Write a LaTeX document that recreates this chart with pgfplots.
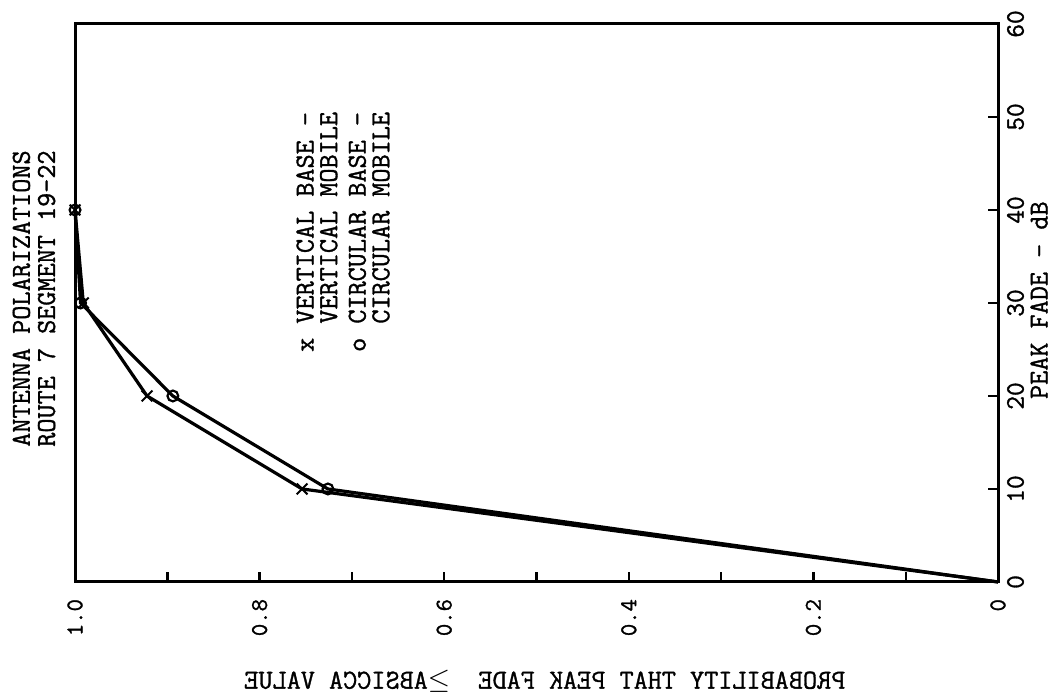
\documentclass[border=0pt]{standalone}
\usepackage{fontspec}
\usepackage{pgfplots}
\pgfplotsset{compat=1.18}
\newfontfamily\tw[FakeBold=1.2]{Latin Modern Mono}
\newcommand\lab{\fontsize{13.7}{11.5}\selectfont\tw}
\newcommand\key{\fontsize{13.7}{11.8}\selectfont\tw}
\newcommand\ttl{\fontsize{13.7}{12.6}\selectfont\tw}
\newcommand\tkb{\fontsize{12}{12}\selectfont\tw}
\newcommand\tkr{\fontsize{13.3}{13}\selectfont\tw}

% cumulative distribution of peak fade, plotted turned on its side
\pgfplotstableread{
p      d
0.000  0
0.754  10
0.922  20
0.991  30
1.000  40
}\vertical
\pgfplotstableread{
p      d
0.000  0
0.726  10
0.894  20
0.994  30
1.000  40
}\circular

\begin{document}
\begin{tikzpicture}
\begin{axis}[
  scale only axis,
  width=461.5pt, height=279pt,
  xmin=0, xmax=1, ymin=0, ymax=60,
  x dir=reverse,
  clip=false,
  axis line style={line width=1.5pt},
  tick style={line width=1.2pt, black},
  tick align=inside,
  major tick length=5pt, minor tick length=5pt,
  xtick={0,0.2,0.4,0.6,0.8,1},
  xticklabels={0,0.2,0.4,0.6,0.8,1.0},
  minor xtick={0.1,0.3,0.5,0.7,0.9},
  ytick={0,10,20,30,40,50,60},
  xtick pos=left, ytick pos=right,
  yticklabel pos=right,
  /pgf/number format/assume math mode=true,
  xticklabel style={rotate=90, anchor=east, font=\tkb},
  xticklabel shift=5pt,
  yticklabel style={rotate=90, anchor=north, font=\tkr},
  yticklabel shift=1pt,
]
\addplot[black, line width=1.6pt, mark=x, mark indices={2,3,4,5},
  mark options={line width=1pt, mark size=3.8pt}] table[x=p, y=d] {\vertical};
\addplot[black, line width=1.6pt, mark=o, mark indices={2,3,4,5},
  mark options={line width=1.1pt, mark size=2.7pt, fill=white}] table[x=p, y=d] {\circular};

% key
\node[rotate=90, anchor=north west, inner sep=0pt, align=left, font=\key]
  at (axis cs:0.7606,24.7)
  {x~VERTICAL BASE -\\
   \phantom{x}~VERTICAL MOBILE\\[2.5pt]
   o~CIRCULAR BASE -\\
   \phantom{o}~CIRCULAR MOBILE};

% title
\node[rotate=90, anchor=north west, inner sep=0pt, align=left, font=\ttl]
  at (axis cs:1.068,14.5)
  {ANTENNA POLARIZATIONS\\ROUTE 7 SEGMENT 19-22};

% axis titles
\node[rotate=90, anchor=north, inner sep=0pt, font=\lab]
  at (axis cs:-0.0347,30.3) {PEAK FADE - dB};
\node[xscale=-1, anchor=north, inner sep=0pt, font=\lab]
  at (axis cs:0.491,-9.46) {PROBABILITY THAT PEAK FADE~~$\geq$ABSICCA VALUE};

% page extent
\path (axis cs:1.0813,-12.26) rectangle (axis cs:-0.065,62.58);
\end{axis}
\end{tikzpicture}
\end{document}
